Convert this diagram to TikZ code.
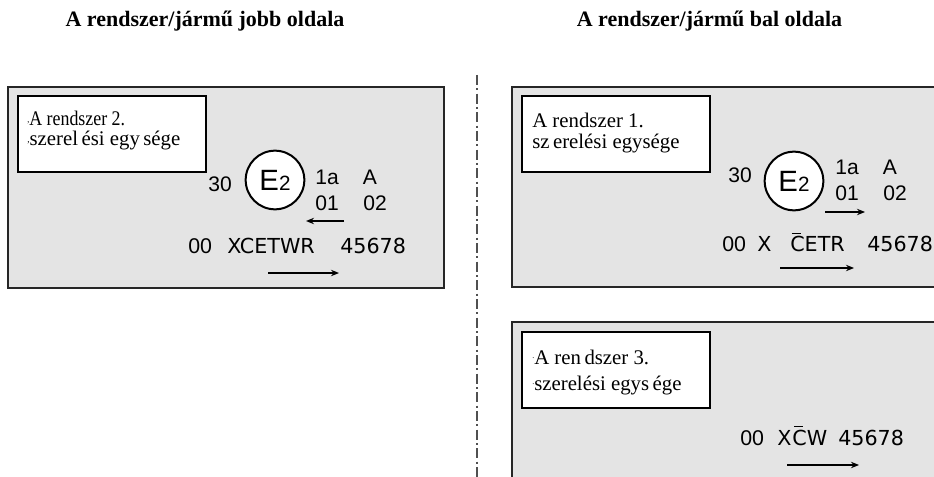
\documentclass[tikz,border=0pt]{standalone}
\usepackage{fontspec}
\usepackage{graphicx}
\setmainfont{Liberation Serif}
\newfontfamily\arialf{Liberation Sans}
\newfontfamily\verdf{DejaVu Sans}
\usetikzlibrary{arrows.meta}
\definecolor{plate}{HTML}{E4E4E4}
\definecolor{divider}{HTML}{505050}
% C with a short bar over it
\newcommand{\barredC}{\makebox[0pt][l]{\hspace{0.08em}\raisebox{0.86em}{\rule{0.42em}{0.07em}}}C}
% small stray marks set in front of some caption lines
\newcommand{\lowmark}{\raisebox{0.35ex}{\fontsize{7}{7}\selectfont,}}
\newcommand{\dotmark}{\raisebox{0.6ex}{\fontsize{6}{6}\selectfont.}}

\begin{document}
\begin{tikzpicture}[x=0.75pt,y=-0.75pt,
  plate box/.style={draw=black!85, line width=1.1pt, fill=plate},
  caption box/.style={draw=black, line width=0.9pt, fill=white},
  heading/.style={font=\fontsize{16.5}{18}\bfseries\selectfont, inner sep=0, anchor=base},
  captxt/.style={font=\fontsize{15.6}{17}\selectfont, inner sep=0, anchor=base west},
  num/.style={font=\arialf\fontsize{15.8}{17}\selectfont, inner sep=0, anchor=base},
  codetxt/.style={font=\verdf\fontsize{15.5}{17}\selectfont, inner sep=0, anchor=base west},
  zeros/.style={font=\arialf\fontsize{16}{17}\selectfont, inner sep=0, anchor=base west},
  seal/.style={circle, draw=black, line width=1.5pt, fill=white, minimum size=44pt, inner sep=0,
    font=\arialf\fontsize{22}{22}\selectfont},
  dir/.style={line width=1.6pt, -{Stealth[length=6pt,width=4.8pt]}},
  divider line/.style={draw=divider, line width=1.4pt, dash pattern=on 7.5pt off 2.5pt on 1.5pt off 2.5pt}]

\useasboundingbox (0,0) rectangle (934,477);
\clip (0,0) rectangle (934,477);

% headings
\node[heading] (hR) at (205,27) {A rendszer/jármű jobb oldala};
\node[heading] (hL) at (709.5,27) {A rendszer/jármű bal oldala};

% dash-dot separator
\coordinate (divtop) at (477,75);
\coordinate (divbot) at (477,480);
\draw[divider line] (divtop) -- (divbot);

% ---- right-hand side: unit 2 ----
\draw[plate box] (8,87) rectangle (444,288);
\draw[caption box] (18,96) rectangle (206,172);
\node[captxt] (c2a) at (27,126) {\scalebox{0.86}[1]{\lowmark A rendszer 2.}};
\node[captxt] (c2b) at (27,146) {\lowmark szerel\,ési egy\,sége};

\node[seal] (sealA) at (275,180) {E{\fontsize{15.5}{16}\selectfont 2}};
\node[num] (n30A) at (220,192) {30};
\node[num] (n1aA) at (327,185) {1a};
\node[num] (nAA) at (370,185) {A};
\node[num] (n01A) at (327,210) {01};
\node[num] (n02A) at (375,210) {02};
\coordinate (arrAs) at (344,221);
\coordinate (arrAe) at (306,221);
\draw[dir] (arrAs) -- (arrAe);

\node[zeros] (zA) at (188,253) {00};
\node[codetxt] (xA) at (227,253) {XCETWR};
\node[codetxt] (dA) at (340,253) {45678};
\coordinate (arrBs) at (268,273);
\coordinate (arrBe) at (339,273);
\draw[dir] (arrBs) -- (arrBe);

% ---- left-hand side: unit 1 ----
\draw[plate box] (512,87) rectangle (950,287);
\draw[caption box] (522,96) rectangle (710,172);
\node[captxt] (c1a) at (532,128) {A rendszer 1.};
\node[captxt] (c1b) at (532,149) {sz\,erelési egysége};

\node[seal] (sealB) at (794,181) {E{\fontsize{15.5}{16}\selectfont 2}};
\node[num] (n30B) at (740,183) {30};
\node[num] (n1aB) at (847,175) {1a};
\node[num] (nAB) at (890,175) {A};
\node[num] (n01B) at (847,200) {01};
\node[num] (n02B) at (895,200) {02};
\coordinate (arrCs) at (825,212);
\coordinate (arrCe) at (865,212);
\draw[dir] (arrCs) -- (arrCe);

\node[zeros] (zB) at (722,252) {00};
\node[codetxt] (xB) at (757,252) {X};
\node[codetxt] (cB) at (790,252) {\barredC ETR};
\node[codetxt] (dB) at (867,252) {45678};
\coordinate (arrDs) at (780,268);
\coordinate (arrDe) at (854,268);
\draw[dir] (arrDs) -- (arrDe);

% ---- left-hand side: unit 3 ----
\draw[plate box] (512,322) rectangle (950,500);
\draw[caption box] (522,332) rectangle (710,408);
\node[captxt] (c3a) at (532,364) {\dotmark A ren\,dszer 3.};
\node[captxt] (c3b) at (532,390) {\dotmark szerelési egys\,ége};

\node[zeros] (zC) at (740,445) {00};
\node[codetxt] (xC) at (777,445) {X\kern0.05em\barredC W};
\node[codetxt] (dC) at (838,445) {45678};
\coordinate (arrEs) at (787,465);
\coordinate (arrEe) at (859,465);
\draw[dir] (arrEs) -- (arrEe);
\end{tikzpicture}
\end{document}
